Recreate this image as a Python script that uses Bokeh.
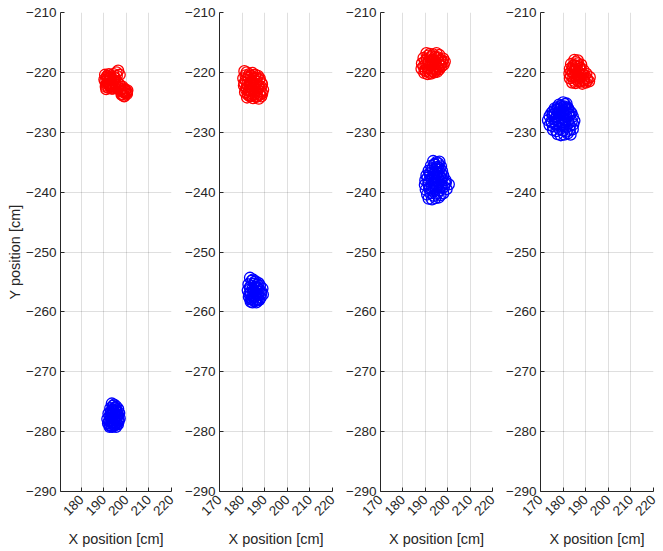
import math
from bokeh.plotting import figure
from bokeh.layouts import row
from bokeh.models import FixedTicker, Range1d
from bokeh.embed import file_html
from bokeh.resources import INLINE

x_ticks = [170, 180, 190, 200, 210, 220]
y_ticks = [-290, -280, -270, -260, -250, -240, -230, -220, -210]
x_label = "X position [cm]"
y_label = "Y position [cm]"

# Panel 1
red1_x = [190.2, 190.8, 191.5, 192.3, 193.0, 193.8, 194.5, 195.0, 190.5, 191.2, 192.0, 192.8,
          193.5, 194.2, 195.0, 191.0, 191.8, 192.6, 193.4, 194.4, 195.6, 196.3, 197.0, 196.0,
          196.8, 197.5, 198.2, 198.9, 199.6, 200.4, 197.8, 198.6, 199.4, 200.2,
          190.6, 191.4, 192.1, 192.9, 193.7, 194.6, 190.9, 191.7, 192.5, 193.3, 194.1, 194.9, 195.7,
          191.3, 192.2, 193.1, 194.0, 196.5, 197.3, 198.0, 198.8, 199.5, 200.2, 199.0, 198.3]
red1_y = [-221.2, -222.4, -220.6, -221.8, -220.9, -222.5, -221.3, -222.0, -220.4, -221.9, -222.6, -220.5,
          -221.6, -220.3, -221.0, -222.8, -221.1, -222.2, -222.7, -222.3, -220.0, -219.7, -220.4, -221.6,
          -222.0, -222.8, -223.2, -222.7, -223.5, -223.0, -223.7, -223.9, -223.1, -223.6,
          -221.5, -220.9, -222.0, -221.2, -221.9, -220.8, -222.1, -221.6, -221.0, -222.3, -221.2, -221.7, -220.6,
          -220.7, -220.3, -222.4, -222.7, -222.5, -223.0, -223.6, -223.3, -222.9, -223.3, -224.0, -222.4]
blue1_x = [193.5, 194.5, 195.5, 196.3, 192.8, 193.8, 194.8, 195.8, 196.8, 192.0, 193.0, 194.0,
           195.0, 196.0, 197.0, 191.5, 192.5, 193.5, 194.5, 195.5, 196.5, 191.8, 192.8, 193.8,
           194.8, 195.8, 192.5, 193.5, 194.5, 195.3,
           194.0, 195.0, 193.3, 194.3, 195.3, 196.3, 192.5, 193.5, 194.5, 195.5, 196.5,
           192.2, 193.2, 194.2, 195.2, 196.2, 192.4, 193.4, 194.4, 195.4, 193.0, 194.0]
blue1_y = [-275.3, -275.5, -275.8, -276.2, -276.1, -276.4, -276.0, -276.7, -276.9, -277.0, -277.3, -277.6,
           -277.1, -277.5, -277.8, -277.9, -278.2, -278.4, -278.0, -278.5, -278.3, -278.6, -279.0, -279.2,
           -278.9, -278.7, -279.2, -278.1, -277.2, -276.5,
           -275.7, -276.0, -276.5, -276.8, -276.3, -277.2, -277.4, -277.0, -277.9, -277.4, -278.0,
           -278.3, -277.8, -278.6, -278.1, -278.8, -278.9, -279.1, -279.0, -279.2, -276.8, -276.3]

# Panel 2
red2_x = [181.0, 182.0, 183.2, 184.5, 185.8, 187.0,
          180.5, 181.6, 182.8, 184.0, 185.2, 186.4, 187.6, 188.6,
          180.8, 182.0, 183.3, 184.6, 185.9, 187.2, 188.4, 189.3,
          181.3, 182.5, 183.8, 185.1, 186.4, 187.7, 188.9,
          182.2, 183.5, 184.8, 186.1, 187.4, 188.5,
          181.5, 182.7, 184.0, 185.2, 186.5, 187.8,
          181.0, 182.3, 183.6, 184.9, 186.2, 187.5, 188.8,
          181.8, 183.0, 184.3, 185.6, 186.9, 188.2,
          182.8, 184.1, 185.4, 186.7, 188.0]
red2_y = [-219.8, -220.0, -220.3, -220.1, -220.4, -220.6,
          -221.0, -221.3, -220.9, -221.5, -221.1, -221.6, -221.2, -221.8,
          -222.2, -222.5, -222.0, -222.7, -222.3, -222.6, -222.4, -222.9,
          -223.3, -223.6, -223.1, -223.8, -223.4, -223.7, -223.5,
          -224.2, -224.0, -224.3, -224.1, -224.4, -224.0,
          -220.5, -220.7, -220.6, -220.8, -220.9, -221.0,
          -221.8, -222.0, -221.7, -222.1, -221.9, -222.2, -222.0,
          -222.9, -223.0, -222.8, -223.1, -222.9, -223.2,
          -223.8, -223.9, -223.6, -224.0, -223.7]
blue2_x = [183.5, 184.8, 186.0, 187.3, 182.8, 184.0, 185.3, 186.6, 187.9, 189.0, 182.5, 183.8,
           185.1, 186.4, 187.7, 189.2, 183.0, 184.3, 185.6, 186.9, 188.2, 183.8, 185.0, 186.3, 187.5,
           184.2, 185.5, 186.8, 183.4, 184.7, 186.0, 187.3, 188.5, 183.2, 184.5, 185.8, 187.1, 188.4,
           183.7, 185.0, 186.3, 187.6, 184.5, 185.8]
blue2_y = [-254.3, -254.6, -254.9, -255.2, -255.4, -255.7, -255.3, -255.9, -255.6, -256.1, -256.4, -256.8,
           -256.5, -257.0, -256.7, -257.1, -257.5, -257.8, -257.4, -257.9, -257.6, -258.3, -258.1, -258.4, -258.0,
           -254.8, -255.0, -255.4, -255.9, -256.1, -255.8, -256.2, -256.6, -257.0, -257.3, -256.9, -257.2, -257.0,
           -257.9, -257.6, -257.9, -258.0, -258.4, -258.2]

# Panel 3
red3_x = [190.5, 192.0, 193.5, 195.0, 196.3,
          189.2, 190.7, 192.2, 193.7, 195.2, 196.7, 198.0,
          188.5, 190.0, 191.5, 193.0, 194.5, 196.0, 197.5, 198.7,
          188.3, 189.8, 191.3, 192.8, 194.3, 195.8, 197.2,
          189.5, 191.0, 192.5, 194.0, 195.3,
          191.2, 192.8, 194.3, 195.7,
          189.9, 191.4, 193.0, 194.5, 196.0, 197.4,
          189.2, 190.7, 192.2, 193.7, 195.2, 196.7, 198.2,
          190.2, 191.7, 193.2, 194.7, 196.2]
red3_y = [-216.8, -216.9, -217.0, -216.8, -217.1,
          -217.6, -217.8, -217.5, -217.9, -217.6, -217.9, -217.7,
          -218.5, -218.7, -218.4, -218.8, -218.5, -218.6, -218.3, -218.2,
          -219.4, -219.6, -219.3, -219.7, -219.4, -219.2, -219.0,
          -220.1, -220.3, -220.2, -220.0, -219.9,
          -217.2, -217.3, -217.4, -217.5,
          -218.1, -218.2, -218.0, -218.3, -218.1, -218.0,
          -219.0, -219.1, -218.9, -219.2, -219.0, -218.8, -218.7,
          -219.8, -219.9, -219.8, -219.7, -219.5]
blue3_x = [193.5, 195.0, 196.3,
           192.5, 194.0, 195.5, 197.0,
           191.5, 193.0, 194.5, 196.0, 197.5,
           190.5, 192.0, 193.5, 195.0, 196.5, 198.0,
           190.0, 191.5, 193.0, 194.5, 196.0, 197.5, 199.0,
           189.8, 191.3, 192.8, 194.3, 195.8, 197.3, 198.8, 200.5,
           190.2, 191.7, 193.2, 194.7, 196.2, 197.7, 199.5,
           190.8, 192.3, 193.8, 195.3, 196.8, 198.0,
           191.5, 193.0, 194.5, 196.0,
           194.2, 195.8, 193.2, 194.8, 196.4, 192.2, 193.8, 195.4, 197.0,
           191.0, 192.6, 194.2, 195.8, 197.4, 199.2, 192.0, 193.6, 195.2, 196.8, 198.4]
blue3_y = [-234.8, -235.0, -234.9,
           -235.6, -235.4, -235.8, -235.7,
           -236.4, -236.2, -236.6, -236.3, -236.5,
           -237.2, -237.0, -237.4, -237.1, -237.3, -237.2,
           -238.0, -238.2, -237.9, -238.1, -238.3, -237.8, -238.0,
           -238.8, -238.6, -239.0, -238.7, -238.9, -238.8, -238.6, -238.7,
           -239.6, -239.4, -239.8, -239.5, -239.7, -239.3, -239.5,
           -240.4, -240.2, -240.6, -240.3, -240.5, -240.2,
           -241.1, -241.2, -241.0, -240.9,
           -235.3, -235.2, -236.0, -236.1, -236.0, -236.8, -236.9, -236.7, -236.9,
           -237.6, -237.7, -237.5, -237.6, -237.7, -238.4, -239.2, -239.3, -239.1, -239.2, -239.1]

# Panel 4
red4_x = [185.0, 186.5,
          183.5, 185.0, 186.5, 188.0,
          183.0, 184.5, 186.0, 187.5, 189.0,
          182.8, 184.3, 185.8, 187.3, 188.8, 190.3,
          183.0, 184.5, 186.0, 187.5, 189.0, 190.5, 191.8,
          184.0, 185.5, 187.0, 188.5, 190.0, 191.5,
          185.7, 184.2, 185.7, 187.2, 183.7, 185.2, 186.7, 188.2,
          183.5, 185.0, 186.5, 188.0, 189.5, 184.8, 186.3, 187.8, 189.3, 190.8]
red4_y = [-217.9, -218.0,
          -218.6, -218.8, -218.5, -218.7,
          -219.4, -219.2, -219.5, -219.3, -219.6,
          -220.2, -220.0, -220.3, -220.1, -220.4, -220.2,
          -221.0, -220.8, -221.1, -220.9, -221.2, -221.0, -220.8,
          -221.7, -221.8, -221.6, -221.9, -221.7, -221.5,
          -218.3, -219.0, -218.9, -219.0, -219.8, -219.7, -219.9, -219.8,
          -220.6, -220.5, -220.7, -220.6, -220.5, -221.4, -221.3, -221.5, -221.4, -221.3]
blue4_x = [180.0, 181.5,
           177.5, 179.0, 180.5, 182.0,
           175.5, 177.0, 178.5, 180.0, 181.5, 183.0,
           174.0, 175.5, 177.0, 178.5, 180.0, 181.5, 183.0, 184.3,
           173.3, 174.8, 176.3, 177.8, 179.3, 180.8, 182.3, 183.8, 185.0,
           174.0, 175.5, 177.0, 178.5, 180.0, 181.5, 183.0, 184.5,
           175.5, 177.0, 178.5, 180.0, 181.5, 183.0, 184.3,
           177.5, 179.0, 180.5, 182.0, 183.3,
           178.2, 180.8, 176.3, 177.8, 179.3, 180.8, 182.3,
           174.8, 176.3, 177.8, 179.3, 180.8, 182.3, 183.7,
           175.0, 176.5, 178.0, 179.5, 181.0, 182.5]
blue4_y = [-225.0, -225.2,
           -225.8, -225.6, -225.7, -225.9,
           -226.5, -226.3, -226.6, -226.4, -226.2, -226.5,
           -227.3, -227.1, -227.4, -227.2, -227.0, -227.3, -227.1, -227.4,
           -228.0, -228.2, -227.9, -228.1, -228.3, -227.9, -228.0, -228.2, -228.1,
           -228.8, -229.0, -228.7, -228.9, -228.8, -229.1, -228.9, -228.7,
           -229.6, -229.8, -229.5, -229.7, -229.9, -229.6, -229.5,
           -230.3, -230.5, -230.4, -230.2, -230.4,
           -225.4, -225.3, -226.0, -226.1, -225.9, -226.0, -226.1,
           -226.8, -226.9, -226.7, -226.8, -226.6, -226.9, -226.8,
           -228.4, -228.5, -228.3, -228.6, -228.4, -228.5]

x_starts = [170.7, 170, 170, 170]
reds = [(red1_x, red1_y), (red2_x, red2_y), (red3_x, red3_y), (red4_x, red4_y)]
blues = [(blue1_x, blue1_y), (blue2_x, blue2_y), (blue3_x, blue3_y), (blue4_x, blue4_y)]

frame_w = [111, 113, 112, 113]
left_b = [60, 40, 40, 40]
right_b = [8, 8, 8, 9]
TOP, FRAME_H, BOTTOM = 12, 480, 57

FONT = "Liberation Sans"
TXT = "#262626"

figs = []
for i in range(4):
    p = figure(width=left_b[i] + frame_w[i] + right_b[i], height=TOP + FRAME_H + BOTTOM,
               x_range=Range1d(x_starts[i], 220), y_range=Range1d(-290, -210),
               output_backend="svg", toolbar_location=None,
               min_border_left=left_b[i], min_border_right=right_b[i],
               min_border_top=TOP, min_border_bottom=BOTTOM)
    p.outline_line_color = None
    p.background_fill_color = "white"
    p.xaxis.ticker = FixedTicker(ticks=x_ticks)
    p.yaxis.ticker = FixedTicker(ticks=y_ticks)
    for ax in (p.xaxis, p.yaxis):
        ax.axis_line_color = TXT
        ax.axis_line_width = 1
        ax.major_tick_line_color = TXT
        ax.major_tick_in = 4
        ax.major_tick_out = 0
        ax.minor_tick_line_color = None
        ax.major_label_text_color = TXT
        ax.major_label_text_font = FONT
        ax.major_label_text_font_size = "13.5px"
        ax.axis_label_text_font = FONT
        ax.axis_label_text_font_size = "14.5px"
        ax.axis_label_text_font_style = "normal"
        ax.axis_label_text_color = TXT
    p.xaxis.major_label_orientation = math.pi / 4
    p.xaxis.axis_label = x_label
    p.xaxis.axis_label_standoff = 8
    p.xaxis.major_label_standoff = 6
    if i == 0:
        p.yaxis.axis_label = y_label
        p.yaxis.axis_label_standoff = 0
    p.yaxis.major_label_standoff = 4
    for g in (p.xgrid, p.ygrid):
        g.grid_line_color = TXT
        g.grid_line_alpha = 0.15
        g.grid_line_width = 1
    p.xgrid.ticker = FixedTicker(ticks=x_ticks)
    p.ygrid.ticker = FixedTicker(ticks=y_ticks)

    rx, ry = reds[i]
    bx, by = blues[i]
    p.scatter(rx, ry, marker="circle", size=11, fill_color=None, line_color="#ff0000", line_width=1.3)
    p.scatter(bx, by, marker="circle", size=11, fill_color=None, line_color="#0000ff", line_width=1.3)
    figs.append(p)

layout = row(*figs, spacing=0)
open("out.html", "w").write(file_html(layout, INLINE))
